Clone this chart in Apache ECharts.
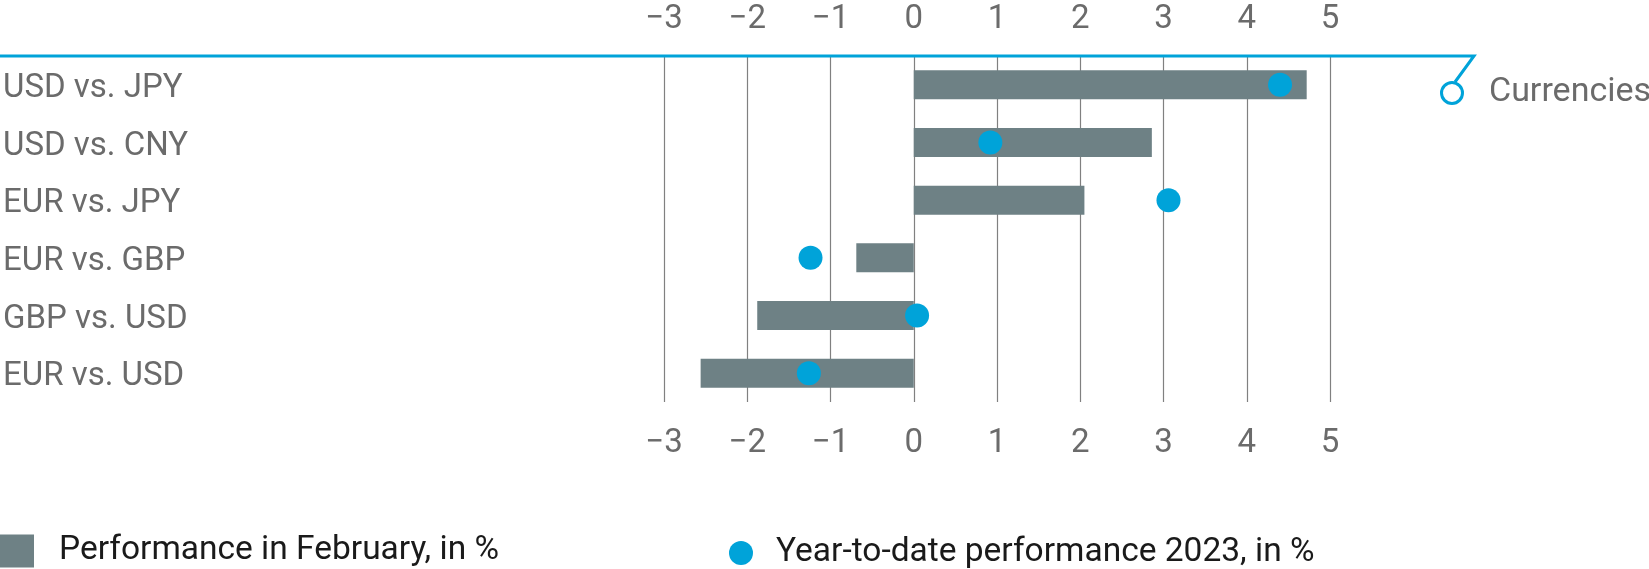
<!DOCTYPE html>
<html>
<head>
<meta charset="utf-8">
<script src="https://cdn.jsdelivr.net/npm/echarts@6/dist/echarts.min.js"></script>
<style>
  html, body { margin: 0; padding: 0; background: #fff; }
  #chart { width: 1649px; height: 569px; }
</style>
</head>
<body>
<div id="chart"></div>
<script>
// currency pairs, top to bottom
var pairs = ['USD vs. JPY', 'USD vs. CNY', 'EUR vs. JPY', 'EUR vs. GBP', 'GBP vs. USD', 'EUR vs. USD'];
// performance in February, in %
var febPerf = [4.72, 2.86, 2.05, -0.69, -1.88, -2.56];
// year-to-date performance 2023, in %
var ytdPerf = [4.40, 0.92, 3.06, -1.24, 0.04, -1.26];
var xTicks = { min: -3, max: 5, step: 1 };

var GRAY_TEXT = '#6b6b6b';
var BLUE = '#00a3d9';
var BAR = '#6e8185';
var FONT = 'Roboto';

var chart = echarts.init(document.getElementById('chart'));

function tickLabel(v) {
  return String(v).replace('-', '\u2212');
}

var axisBase = {
  type: 'value',
  min: xTicks.min,
  max: xTicks.max,
  interval: xTicks.step,
  axisLine: { show: false },
  axisTick: { show: false },
  axisLabel: {
    fontFamily: FONT,
    fontSize: 33,
    color: GRAY_TEXT,
    formatter: tickLabel
  }
};

var option = {
  animation: false,
  grid: { left: 664, right: 319, top: 56, bottom: 167 },
  xAxis: [
    Object.assign({}, axisBase, {
      position: 'bottom',
      axisLabel: Object.assign({}, axisBase.axisLabel, { margin: 25 }),
      splitLine: { show: true, lineStyle: { color: '#808080', width: 1.2 } }
    }),
    Object.assign({}, axisBase, {
      position: 'top',
      axisLabel: Object.assign({}, axisBase.axisLabel, { margin: 20 }),
      splitLine: { show: false }
    })
  ],
  yAxis: {
    type: 'category',
    data: pairs,
    inverse: true,
    axisLine: { show: false },
    axisTick: { show: false },
    splitLine: { show: false },
    axisLabel: {
      align: 'left',
      margin: 661,
      formatter: function (v) { return '{p|' + v + '}'; },
      rich: {
        p: { fontFamily: FONT, fontSize: 33, color: GRAY_TEXT, padding: [8, 0, 0, 0] }
      }
    }
  },
  legend: [
    {
      data: [{ name: 'Performance in February, in %', icon: 'rect' }],
      left: 0, top: 532, padding: 0,
      itemWidth: 34, itemHeight: 33,
      textStyle: { fontFamily: FONT, fontSize: 33.5, color: '#1a1a1a', padding: [4, 0, 0, 20], lineHeight: 34 }
    },
    {
      data: [{ name: 'Year-to-date performance 2023, in %', icon: 'circle' }],
      left: 729, top: 535, padding: 0,
      itemWidth: 24, itemHeight: 24,
      textStyle: { fontFamily: FONT, fontSize: 33.5, color: '#1a1a1a', padding: [2, 0, 0, 18], lineHeight: 34 }
    }
  ],
  series: [
    {
      name: 'Performance in February, in %',
      type: 'bar',
      data: febPerf,
      barWidth: 29,
      itemStyle: { color: BAR },
      z: 2
    },
    {
      name: 'Year-to-date performance 2023, in %',
      type: 'scatter',
      data: ytdPerf,
      symbol: 'circle',
      symbolSize: 24,
      itemStyle: { color: BLUE, opacity: 1 },
      z: 5
    }
  ],
  graphic: [
    {
      type: 'polyline',
      shape: { points: [[0, 56], [1474, 56], [1455, 82]] },
      style: { stroke: BLUE, lineWidth: 3, fill: null },
      z: 10
    },
    {
      type: 'circle',
      shape: { cx: 1452, cy: 93, r: 10.5 },
      style: { stroke: BLUE, lineWidth: 3, fill: '#fff' },
      z: 10
    },
    {
      type: 'text',
      left: 1489, top: 75,
      style: { text: 'Currencies', fontFamily: FONT, fontSize: 34, fill: GRAY_TEXT }
    }
  ]
};

chart.setOption(option);
</script>
</body>
</html>
